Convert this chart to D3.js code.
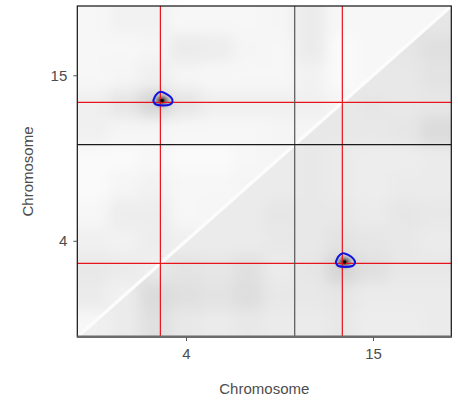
<!DOCTYPE html>
<html>
<head>
<meta charset="utf-8">
<script src="https://cdn.jsdelivr.net/npm/d3@7"></script>
<style>
  body { margin: 0; background: #fff; }
  text { font-family: "Liberation Sans", Arial, sans-serif; }
</style>
</head>
<body>
<script>
// Chromosomes and genetic map (cM)
const chrNames = ["4", "15"];
const chrLengths = [84, 60.5];
const gridBreaks4 = [0, 12, 24, 36, 48, 60, 72, 84];
const gridBreaks15 = [0, 12.1, 24.2, 36.3, 48.4, 60.5];

// LOD on the grid, row i = larger position index, col j <= i
// upper-left triangle
const lodUpper = [
  [0.3],
  [0.8, 0.5],
  [0.9, 0.8, 0.6],
  [0.6, 0.5, 0.7, 0.6],
  [0.3, 0.7, 0.7, 0.3, 0.4],
  [0.2, 0.4, 0.5, 0.3, 0.3, 0.4],
  [0.2, 0.2, 0.3, 0.2, 0.2, 0.3, 0.4],
  [0.6, 0.4, 0.4, 0.3, 0.3, 0.3, 0.4, 0.4],
  [0.6, 1.0, 1.6, 1.0, 0.6, 0.6, 0.6, 0.6, 0.4],
  [0.3, 0.4, 0.6, 0.4, 0.3, 0.3, 0.3, 0.5, 0.2, 0.3],
  [0.3, 0.3, 0.4, 0.8, 0.7, 0.4, 0.3, 0.8, 0.2, 0.3, 0.3],
  [0.3, 0.5, 0.5, 0.3, 0.3, 0.3, 0.4, 0.8, 0.3, 0.3, 0.3, 0.3]
];
// lower-right triangle
const lodLower = [
  [0.6],
  [0.8, 0.8],
  [1.2, 1.4, 0.9],
  [0.9, 1.2, 1.1, 0.8],
  [0.8, 1.1, 1.0, 0.8, 0.8],
  [0.9, 1.3, 1.2, 0.8, 0.8, 0.8],
  [0.8, 0.9, 0.8, 0.9, 1.0, 0.8, 0.8],
  [0.8, 0.9, 1.0, 0.9, 0.9, 0.9, 0.9, 0.9],
  [0.9, 1.0, 1.6, 1.1, 0.9, 0.8, 0.8, 0.9, 0.9],
  [0.7, 0.8, 1.2, 1.0, 0.8, 0.7, 0.7, 0.9, 1.0, 0.9],
  [0.7, 0.8, 0.9, 0.9, 1.0, 0.8, 0.7, 1.0, 0.9, 0.9, 1.0],
  [0.8, 0.8, 0.9, 0.8, 0.9, 0.8, 0.8, 1.4, 1.0, 1.1, 1.2, 1.0]
];

// QTL positions (red lines) and two-locus peaks
const qtlChr = ["4", "15"];
const qtlPos = [32.1, 18.4];
const peakX = [{chr: "4", pos: 32.7}, {chr: "15", pos: 19.2}];
const peakY = [{chr: "15", pos: 19.2}, {chr: "4", pos: 32.7}];
const peakLod = 10;
// contour around each peak, offsets in cM
const contourShape = [[-0.5, 3.9], [1.5, 3.1], [3.5, 1.4], [4.1, -0.3], [3.1, -1.7],
  [0.4, -2.1], [-2.3, -1.7], [-3.3, -0.1], [-2.3, 2.5]];

const width = 458, height = 402;
const svg = d3.select("body").append("svg")
    .attr("width", width)
    .attr("height", height);

const total = d3.sum(chrLengths);
const chrStart = {};
chrNames.forEach((c, i) => chrStart[c] = d3.sum(chrLengths.slice(0, i)));

const x = d3.scaleLinear().domain([0, total]).range([77.3, 451.3]);
const y = d3.scaleLinear().domain([0, total]).range([337, 6]);
const gx = (chr, pos) => x(chrStart[chr] + pos);
const gy = (chr, pos) => y(chrStart[chr] + pos);
const color = d3.scaleLinear().domain([0, 10]).range(["#ffffff", "#000000"]);

// cumulative cell edges
const edges = gridBreaks4.concat(gridBreaks15.slice(1).map(d => d + chrStart["15"]));
const nCell = edges.length - 1;

const defs = svg.append("defs");
defs.append("clipPath").attr("id", "clipUpper").append("polygon")
    .attr("points", [[x(0), y(0)], [x(0), y(total)], [x(total), y(total)]].join(" "));
defs.append("clipPath").attr("id", "clipLower").append("polygon")
    .attr("points", [[x(0), y(0)], [x(total), y(total)], [x(total), y(0)]].join(" "));
defs.append("filter").attr("id", "soft")
    .attr("filterUnits", "userSpaceOnUse")
    .attr("x", 0).attr("y", 0).attr("width", width).attr("height", height)
  .append("feGaussianBlur").attr("stdDeviation", 7);

function drawTriangle(M, clipId) {
  const cells = [];
  for (let r = 0; r < nCell; r++) {
    for (let c = 0; c < nCell; c++) {
      cells.push({r, c, v: M[Math.max(r, c)][Math.min(r, c)]});
    }
  }
  const pad = 20;
  svg.append("g").attr("clip-path", `url(#${clipId})`)
    .append("g").attr("filter", "url(#soft)")
    .selectAll("rect").data(cells).join("rect")
      .attr("x", d => x(edges[d.c]) - (d.c === 0 ? pad : 0))
      .attr("y", d => y(edges[d.r + 1]) - (d.r === nCell - 1 ? pad : 0))
      .attr("width", d => x(edges[d.c + 1]) - x(edges[d.c]) + (d.c === 0 || d.c === nCell - 1 ? pad : 0) + 0.5)
      .attr("height", d => y(edges[d.r]) - y(edges[d.r + 1]) + (d.r === 0 || d.r === nCell - 1 ? pad : 0) + 0.5)
      .attr("fill", d => color(d.v));
}
drawTriangle(lodUpper, "clipUpper");
drawTriangle(lodLower, "clipLower");

// peak spots
const grad = defs.append("radialGradient").attr("id", "peakGrad");
[[0, 10, 1], [0.25, 6, 0.95], [0.55, 3.2, 0.75], [1, 1.2, 0]].forEach(s => {
  grad.append("stop").attr("offset", s[0])
    .attr("stop-color", color(s[1] * peakLod / 10)).attr("stop-opacity", s[2]);
});
const peaks = peakX.map((p, i) => ({x: p, y: peakY[i]}));
svg.append("g").selectAll("ellipse").data(peaks).join("ellipse")
    .attr("cx", d => gx(d.x.chr, d.x.pos))
    .attr("cy", d => gy(d.y.chr, d.y.pos))
    .attr("rx", x(5) - x(0))
    .attr("ry", y(0) - y(4.5))
    .attr("fill", "url(#peakGrad)");

// self diagonal
svg.append("line")
    .attr("x1", x(0)).attr("y1", y(0))
    .attr("x2", x(total)).attr("y2", y(total))
    .attr("stroke", "#fcfcfc").attr("stroke-width", 3.5);

// QTL lines
const qtl = qtlChr.map((c, i) => ({chr: c, pos: qtlPos[i]}));
const lines = svg.append("g").attr("stroke", "#e8141c").attr("stroke-width", 1.2);
lines.selectAll(".v").data(qtl).join("line").attr("class", "v")
    .attr("x1", d => gx(d.chr, d.pos)).attr("x2", d => gx(d.chr, d.pos))
    .attr("y1", y(0)).attr("y2", y(total));
lines.selectAll(".h").data(qtl).join("line").attr("class", "h")
    .attr("y1", d => gy(d.chr, d.pos)).attr("y2", d => gy(d.chr, d.pos))
    .attr("x1", x(0)).attr("x2", x(total));

// chromosome boundaries
svg.append("line")
    .attr("x1", x(chrStart["15"])).attr("x2", x(chrStart["15"]))
    .attr("y1", y(0)).attr("y2", y(total))
    .attr("stroke", "#555").attr("stroke-width", 1.2);
svg.append("line")
    .attr("y1", y(chrStart["15"])).attr("y2", y(chrStart["15"]))
    .attr("x1", x(0)).attr("x2", x(total))
    .attr("stroke", "#1a1a1a").attr("stroke-width", 1.2);

// contours and peak dots
const contourLine = d3.line().curve(d3.curveCardinalClosed.tension(0.3));
svg.append("g").selectAll("path").data(peaks).join("path")
    .attr("d", d => contourLine(contourShape.map(o =>
        [gx(d.x.chr, d.x.pos + o[0]), gy(d.y.chr, d.y.pos + o[1])])))
    .attr("fill", "none").attr("stroke", "#1010e0").attr("stroke-width", 2);
svg.append("g").selectAll("rect").data(peaks).join("rect")
    .attr("x", d => gx(d.x.chr, d.x.pos) - 1.5)
    .attr("y", d => gy(d.y.chr, d.y.pos) - 1.5)
    .attr("width", 3).attr("height", 3)
    .attr("fill", "#000");

// panel border
svg.append("rect")
    .attr("x", x(0)).attr("y", y(total))
    .attr("width", x(total) - x(0)).attr("height", y(0) - y(total))
    .attr("fill", "none").attr("stroke", "#111").attr("stroke-width", 1.2);
svg.append("line")
    .attr("x1", x(0)).attr("x2", x(total))
    .attr("y1", y(0) - 0.5).attr("y2", y(0) - 0.5)
    .attr("stroke", "#6b6b6b").attr("stroke-width", 2);

// axes
const mids = chrNames.map((c, i) => chrStart[c] + chrLengths[i] / 2);
const fmt = (d, i) => chrNames[i];
const xAxis = svg.append("g").attr("transform", `translate(0,${y(0)})`)
    .call(d3.axisBottom(x).tickValues(mids).tickFormat(fmt).tickSize(4).tickPadding(7));
const yAxis = svg.append("g").attr("transform", `translate(${x(0)},0)`)
    .call(d3.axisLeft(y).tickValues(mids).tickFormat(fmt).tickSize(4).tickPadding(6));
[xAxis, yAxis].forEach(a => {
  a.select(".domain").remove();
  a.selectAll(".tick line").attr("stroke", "#555");
  a.selectAll(".tick text").attr("fill", "#4d4d4d").style("font-size", "15px")
    .style("font-family", '"Liberation Sans", Arial, sans-serif');
});

svg.append("text")
    .attr("x", (x(0) + x(total)) / 2).attr("y", 394)
    .attr("text-anchor", "middle").attr("fill", "#4d4d4d")
    .style("font-size", "15px")
    .text("Chromosome");
svg.append("text")
    .attr("transform", `translate(33,${(y(0) + y(total)) / 2}) rotate(-90)`)
    .attr("text-anchor", "middle").attr("fill", "#4d4d4d")
    .style("font-size", "15px")
    .text("Chromosome");
</script>
</body>
</html>
